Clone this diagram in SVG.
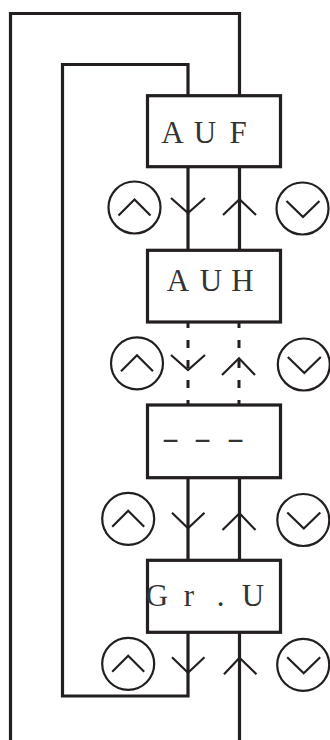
<svg xmlns="http://www.w3.org/2000/svg" width="330" height="740" viewBox="0 0 330 740">
<style>
.box{fill:#fff;stroke:#231f20;stroke-width:3.2}
.ln{fill:none;stroke:#231f20;stroke-width:3.2;stroke-linejoin:miter}
.dash{fill:none;stroke:#231f20;stroke-width:3;stroke-dasharray:8 12}
.chev{fill:none;stroke:#231f20;stroke-width:2.2;stroke-linejoin:miter}
.btn{fill:#fff;stroke:#231f20;stroke-width:2.2}
.lbl{font-family:"Liberation Serif","Times New Roman",serif;font-size:31px;fill:#333;text-anchor:middle}
</style>
<g id="connectors">
<path class="ln" d="M10.5 740 V13.5 H239.5 V95.5"/>
<path class="ln" d="M188 95.5 V64.5 H62.5 V696 H188 V632"/>
<path class="ln" d="M188 166.7 V250.3 M239.5 166.7 V250.3"/>
<path class="dash" d="M188 320 V405 M239 320 V405"/>
<path class="ln" d="M188 477.7 V560.3 M239.5 477.7 V560.3"/>
<path class="ln" d="M239.5 632.3 V740"/>
<path class="chev" d="M171 198 L188 213 L205 198 M223 215 L239.5 199.3 L256 215"/>
<path class="chev" d="M171 355 L188 370 L205 355 M222 375 L239 358.3 L255 375"/>
<path class="chev" d="M172 512.7 L188 528.3 L204.5 512.7 M222.5 530 L239.5 513.3 L255.5 530"/>
<path class="chev" d="M172 657.3 L188 672.7 L204.5 657.3 M224 674.3 L239.5 657.7 L256.5 674.3"/>
</g>
<g id="node-auf">
<rect class="box" x="147.5" y="95.7" width="133" height="71"/>
<text class="lbl" x="172.5 205 238" y="143">AUF</text>
</g>
<g id="node-auh">
<rect class="box" x="147.5" y="250.3" width="133" height="71.7"/>
<text class="lbl" x="178 211 242.5" y="291">AUH</text>
</g>
<g id="node-dash">
<rect class="box" x="147.5" y="405" width="133" height="72.7"/>
<text class="lbl" transform="translate(170.5 448) scale(1.7 1)" x="0 18.8 38.2" y="0">---</text>
</g>
<g id="node-gru">
<rect class="box" x="147.5" y="560.3" width="133" height="72"/>
<text class="lbl" x="157 189 220.5 253" y="605.7">Gr.U</text>
</g>
<g id="buttons">
<g id="btn-up-1"><circle class="btn" cx="134.5" cy="207.5" r="26"/><path class="chev" d="M118.5 215.5 L134.5 199.5 L150.5 215.5"/></g>
<g id="btn-down-1"><circle class="btn" cx="302.5" cy="208.5" r="26"/><path class="chev" d="M286.5 201 L303 217 L319.5 201"/></g>
<g id="btn-up-2"><circle class="btn" cx="137" cy="363.3" r="26"/><path class="chev" d="M121 371.3 L137 355.3 L153 371.3"/></g>
<g id="btn-down-2"><circle class="btn" cx="303.8" cy="364.5" r="26"/><path class="chev" d="M287.8 357 L304.3 373 L320.8 357"/></g>
<g id="btn-up-3"><circle class="btn" cx="128.2" cy="518.8" r="26"/><path class="chev" d="M112.2 526.8 L128.2 510.8 L144.2 526.8"/></g>
<g id="btn-down-3"><circle class="btn" cx="303.3" cy="520" r="26"/><path class="chev" d="M287.3 512.5 L303.8 528.5 L320.3 512.5"/></g>
<g id="btn-up-4"><circle class="btn" cx="128.2" cy="663.8" r="26"/><path class="chev" d="M112.2 671.8 L128.2 655.8 L144.2 671.8"/></g>
<g id="btn-down-4"><circle class="btn" cx="303.2" cy="664.8" r="26"/><path class="chev" d="M287.2 657.3 L303.7 673.3 L320.2 657.3"/></g>
</g>
</svg>
